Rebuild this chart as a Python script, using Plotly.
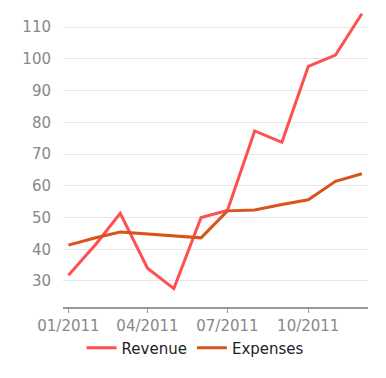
import plotly.graph_objects as go

months = ["2011-01-01", "2011-02-01", "2011-03-01", "2011-04-01", "2011-05-01", "2011-06-01",
          "2011-07-01", "2011-08-01", "2011-09-01", "2011-10-01", "2011-11-01", "2011-12-01"]
revenue = [31.8, 41.5, 51.3, 34.0, 27.6, 50.0, 52.2, 77.3, 73.7, 97.6, 101.2, 114.2]
expenses = [41.3, 43.6, 45.4, 44.8, 44.4, 43.6, 52.1, 52.4, 54.1, 55.6, 61.4, 63.8]
y_ticks = [30, 40, 50, 60, 70, 80, 90, 100, 110]

fig = go.Figure()
fig.add_trace(go.Scatter(x=months, y=revenue, mode="lines", name="Revenue",
                         line=dict(color="#ff5050", width=3)))
fig.add_trace(go.Scatter(x=months, y=expenses, mode="lines", name="Expenses",
                         line=dict(color="#d9541c", width=3)))

# page body has an 8px default margin, so the figure is sized/offset to compensate
fig.update_layout(
    width=378, height=370,
    margin=dict(l=55, r=18, t=2, b=71, autoexpand=False),
    paper_bgcolor="white", plot_bgcolor="white",
    font=dict(family="DejaVu Sans", size=15, color="#888888"),
    showlegend=True,
    legend=dict(orientation="h", xref="container", yref="container",
                x=0.495, xanchor="center", y=0.081, yanchor="middle",
                font=dict(color="#222222", size=15), itemwidth=30,
                tracegroupgap=0),
    xaxis=dict(type="date", range=["2010-12-25 20:00", "2011-12-08"],
               tick0="2011-01-01", dtick="M3", tickformat="%m/%Y",
               showgrid=False, showline=True, linecolor="#999999", linewidth=1.5,
               ticks="outside", ticklen=4, tickcolor="#999999", zeroline=False,
               automargin=False),
    yaxis=dict(range=[21.8, 115.4], tickvals=y_ticks, showgrid=True,
               gridcolor="#e6e6e6", gridwidth=1, zeroline=False, showline=False,
               ticks="", ticklabelstandoff=11, automargin=False),
)

fig.write_html("out.html")
